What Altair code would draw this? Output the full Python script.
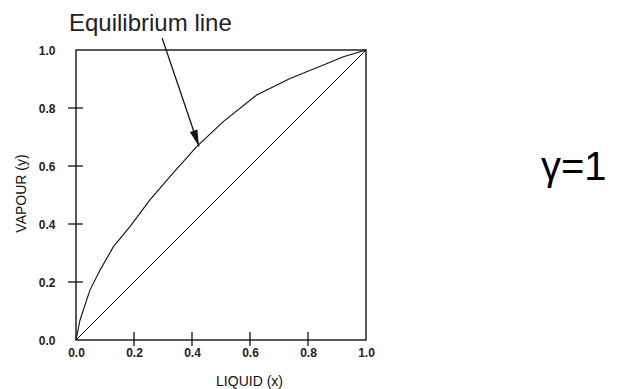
import math
import altair as alt
import pandas as pd

# Equilibrium curve
liquid_x = [0.0, 0.014, 0.048, 0.083, 0.129, 0.186, 0.255, 0.324, 0.416, 0.508, 0.623, 0.738, 0.853, 0.922, 1.0]
vapour_y = [0.0, 0.069, 0.172, 0.241, 0.322, 0.391, 0.483, 0.563, 0.667, 0.753, 0.845, 0.902, 0.948, 0.977, 1.0]

# 45-degree line
diag_x = [0.0, 1.0]
diag_y = [0.0, 1.0]

# axis values
axis_values = [0.0, 0.2, 0.4, 0.6, 0.8, 1.0]
inner_ticks = [0.2, 0.4, 0.6, 0.8]

x_title = "LIQUID (x)"
y_title = "VAPOUR (y)"
annotation = ["Equilibrium line"]
gamma_label = ["γ=1"]

# arrow (data coordinates)
arrow_start = [0.297, 1.041]
arrow_tip = [0.424, 0.667]

FONT = "Liberation Sans"
INK = "#111111"

curve_df = pd.DataFrame({"x": liquid_x, "y": vapour_y})
diag_df = pd.DataFrame({"x": diag_x, "y": diag_y})
yticks_df = pd.DataFrame({"y": inner_ticks})
xticks_df = pd.DataFrame({"x": inner_ticks})
ann_df = pd.DataFrame({"t": annotation})
gam_df = pd.DataFrame({"t": gamma_label})

dx = arrow_tip[0] - arrow_start[0]
dy = arrow_tip[1] - arrow_start[1]
# clockwise angle from "up" on screen (screen y grows downward, data y upward)
angle = math.degrees(math.atan2(dx, dy)) % 360
arrow_df = pd.DataFrame({
    "x": [arrow_start[0]], "y": [arrow_start[1]],
    "x2": [arrow_tip[0]], "y2": [arrow_tip[1]],
})
head_df = pd.DataFrame({"x": [arrow_tip[0]], "y": [arrow_tip[1]]})

sc = alt.Scale(domain=[0, 1], nice=False, zero=False)

x_axis = alt.Axis(
    values=axis_values, format=".1f", ticks=False, domain=False, grid=False,
    labelFont=FONT, labelFontSize=12, labelFontWeight="bold", labelColor="#222222",
    labelPadding=7, labelFlush=False, labelOverlap=False,
    title=x_title, titleFont=FONT, titleFontSize=14, titleFontWeight="normal",
    titleColor=INK, titleX=173, titleY=41, titleBaseline="middle", titleAnchor="middle",
)
y_axis = alt.Axis(
    values=axis_values, format=".1f", ticks=False, domain=False, grid=False,
    labelFont=FONT, labelFontSize=12, labelFontWeight="bold", labelColor="#222222",
    labelPadding=21, labelFlush=False, labelOverlap=False,
    title=y_title, titleFont=FONT, titleFontSize=14, titleFontWeight="normal",
    titleColor=INK, titleX=-55, titleY=143, titleAngle=-90, titleBaseline="middle",
    titleAlign="center",
)

X = alt.X("x:Q", scale=sc, axis=x_axis)
Y = alt.Y("y:Q", scale=sc, axis=y_axis)

curve = alt.Chart(curve_df).mark_line(color=INK, strokeWidth=1.1).encode(x=X, y=Y, order="x:Q")
diag = alt.Chart(diag_df).mark_line(color=INK, strokeWidth=1).encode(x=X, y=Y)

yticks = alt.Chart(yticks_df).mark_rule(color=INK, strokeWidth=1.3).encode(
    y=Y, x=alt.value(-8), x2=alt.value(7)
)
xticks = alt.Chart(xticks_df).mark_rule(color=INK, strokeWidth=1.3).encode(
    x=X, y=alt.value(282), y2=alt.value(296)
)

arrow = alt.Chart(arrow_df).mark_rule(color=INK, strokeWidth=1.3).encode(
    x=X, y=Y, x2="x2:Q", y2="y2:Q",
)
head = alt.Chart(head_df).mark_point(
    shape="M0,0L0.5,2.1L-0.5,2.1Z", filled=True, color=INK, opacity=1,
    size=250, angle=angle, strokeWidth=0,
).encode(x=X, y=Y)

ann = alt.Chart(ann_df).mark_text(
    font=FONT, fontSize=24, color="#222222", align="left", baseline="alphabetic",
).encode(text="t:N", x=alt.value(-7), y=alt.value(-19))

gam = alt.Chart(gam_df).mark_text(
    font=FONT, fontSize=40, color="#000000", align="left", baseline="alphabetic",
).encode(text="t:N", x=alt.value(465), y=alt.value(130))

chart = alt.layer(curve, diag, yticks, xticks, arrow, head, ann, gam).properties(
    width=290, height=290,
    padding={"left": 76, "top": 50, "right": 251, "bottom": 49},
    autosize=alt.AutoSizeParams(type="none"),
    background="white",
).configure_view(stroke="#222222", strokeWidth=1.5)

chart.save("out.html", embed_options={"renderer": "svg", "actions": False})
